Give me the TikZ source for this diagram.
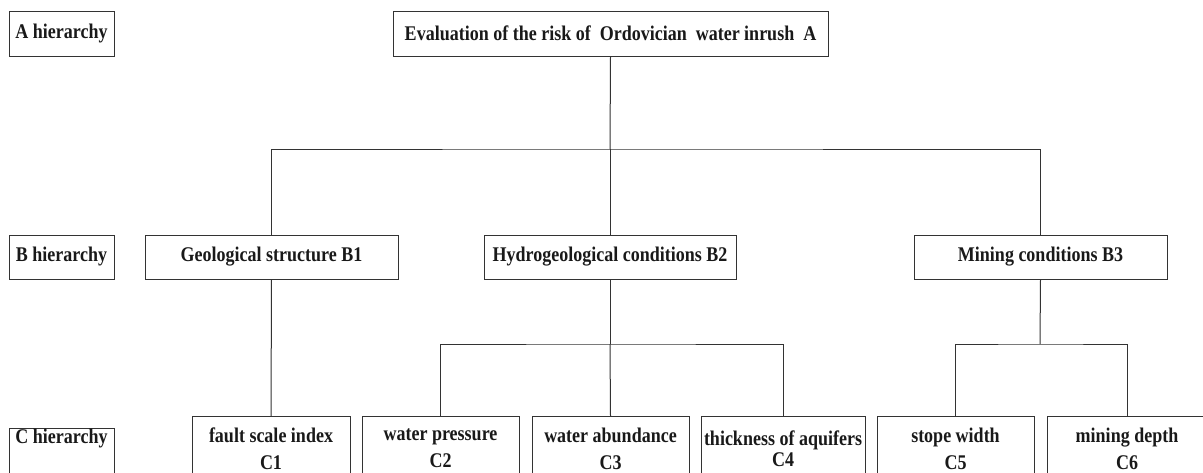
\documentclass[tikz,border=0pt]{standalone}
\usepackage{fontspec}
\usepackage{graphicx}
\setmainfont{Liberation Serif}
\newcommand{\tl}[1]{\scalebox{1}[1.16]{#1}}
\begin{document}
\begin{tikzpicture}[x=1pt,y=-1pt,
  box/.style={draw=black!80, line width=1pt, rectangle, inner sep=0pt, font=\fontsize{18}{20}\selectfont\bfseries, text=black!90},
  cbox/.style={box, align=center, font=\fontsize{18}{27}\selectfont\bfseries},
  conn/.style={draw=black!80, line width=1pt}]
\useasboundingbox (0,0) rectangle (1203,472);
\clip (0,0) rectangle (1203,472);
% level labels
\node[box, minimum width=105, minimum height=45] (ahier) at (61.5,33.5) {\tl{A hierarchy}};
\node[box, minimum width=105, minimum height=44] (bhier) at (61.5,257) {\tl{B hierarchy}};
\node[box, minimum width=105, minimum height=52, anchor=north] (chier) at (61.5,428) {};
\node[font=\fontsize{18}{20}\selectfont\bfseries, text=black!90, inner sep=0pt] (chiertext) at (61.5,439) {\tl{C hierarchy}};
% A
\node[box, minimum width=435, minimum height=45] (A) at (610.5,33.5) {\tl{Evaluation of the risk of\ \ Ordovician\ \ water inrush\ \ A}};
% B
\node[box, minimum width=253, minimum height=44] (B1) at (271.5,257) {\tl{Geological structure B1}};
\node[box, minimum width=252, minimum height=44] (B2) at (610,257) {\tl{Hydrogeological conditions B2}};
\node[box, minimum width=253, minimum height=44] (B3) at (1040.5,257) {\tl{Mining conditions B3}};
% C
\node[cbox, minimum width=158, minimum height=64, anchor=north] (C1) at (271,416) {\tl{fault scale index}\\\tl{C1}};
\node[cbox, minimum width=157, minimum height=64, anchor=north] (C2) at (440.5,416) {\tl{water pressure}\\\tl{C2}};
\node[cbox, minimum width=157, minimum height=64, anchor=north] (C3) at (610.5,416) {\tl{water abundance}\\\tl{C3}};
\node[cbox, font=\fontsize{18}{21}\selectfont\bfseries, minimum width=164, minimum height=64, anchor=north] (C4) at (783,416) {\tl{thickness of aquifers}\\\tl{C4}};
\node[cbox, minimum width=157, minimum height=64, anchor=north] (C5) at (955.5,416) {\tl{stope width}\\\tl{C5}};
\node[cbox, minimum width=160, minimum height=64, anchor=north] (C6) at (1127,416) {\tl{mining depth}\\\tl{C6}};
% connectors
\coordinate (ja) at (610,149);
\coordinate (jb2) at (610,344);
\coordinate (jb3) at (1040,344);
\draw[conn] (A.south) -- (ja);
\draw[conn] (B1.north) |- (ja) -| (B3.north);
\draw[conn] (ja) -- (B2.north);
\draw[conn] (B1.south) -- (C1.north);
\draw[conn] (B2.south) -- (jb2);
\draw[conn] (C2.north) |- (jb2) -| (C4.north);
\draw[conn] (jb2) -- (C3.north);
\draw[conn] (B3.south) -- (jb3);
\draw[conn] (C5.north) |- (jb3) -| (C6.north);
\end{tikzpicture}
\end{document}
